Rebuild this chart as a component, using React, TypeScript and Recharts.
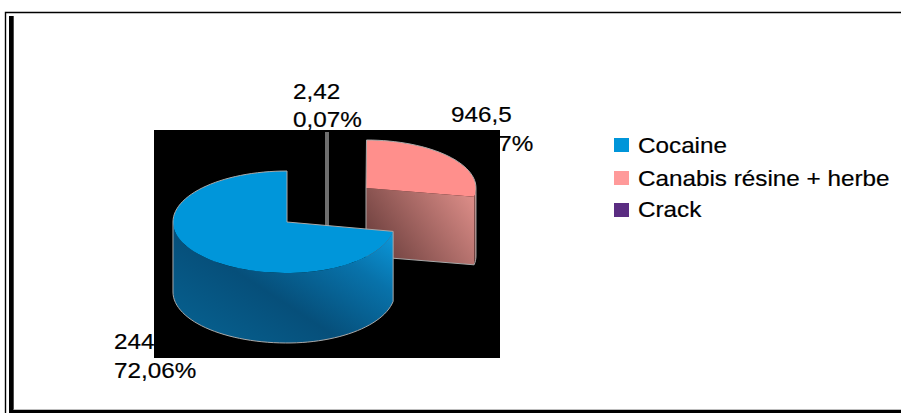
import React from 'react';
import { PieChart, Pie, Legend } from 'recharts';

const categories = ['Cocaine', 'Canabis résine + herbe', 'Crack'];
const values = [2447, 946.5, 2.42];
const valueLabels = ['2447', '946,5', '2,42'];
const percentLabels = ['72,06%', '27,87%', '0,07%'];
const legendColors = ['#0095d9', '#ff9a9a', '#5b2d82'];

// 3D look of each slice, same order as categories
const sliceLooks = [
  { dx: 0, dy: 0, left: 1.018, right: 0.964, ry: 51, depth: 70, top: '#0096da', wall: 'url(#wallBlue)', edge: '#a9a9a9', hairline: false },
  { dx: 79, dy: -34, left: 1, right: 0.982, ry: 48, depth: 68, top: '#ff8f8c', wall: 'url(#wallPink)', edge: '#a9a9a9', hairline: false },
  { dx: 40, dy: -42, left: 1, right: 1, ry: 48, depth: 68, top: '#6e6e6e', wall: '#6e6e6e', edge: '#6e6e6e', hairline: true },
];
const labelSpots = [
  { x: 114, y1: 349, y2: 378 },
  { x: 451, y1: 122, y2: 151 },
  { x: 293, y1: 99, y2: 127 },
];

const FONT = '"Liberation Sans", Arial, sans-serif';
const rad = (a: number) => (a * Math.PI) / 180;

function StretchedText({ x, y, children }: { x: number; y: number; children: React.ReactNode }) {
  return (
    <text
      transform={`translate(${x},${y}) scale(1.06,1)`}
      fontFamily={FONT}
      fontSize={22.9}
      fill="#000"
      stroke="#000"
      strokeWidth={0.2}
    >
      {children}
    </text>
  );
}

function Slice3D(props: any) {
  const { cx, cy, outerRadius, startAngle, endAngle, index } = props;
  // painted back to front, so the index is mirrored
  const look = sliceLooks[categories.length - 1 - index];
  const x0 = cx + look.dx;
  const y0 = cy + look.dy;
  const a0 = Math.min(startAngle, endAngle);
  const a1 = Math.max(startAngle, endAngle);
  const d = look.depth;
  const px = (a: number) => {
    const c = Math.cos(rad(a));
    return x0 + outerRadius * c * (c < 0 ? look.left : look.right);
  };
  const py = (a: number) => y0 - look.ry * Math.sin(rad(a));

  // the rim is egg shaped, so it is walked in small steps instead of an A command
  const rim = (from: number, to: number, drop = 0) => {
    const steps = Math.max(2, Math.ceil(Math.abs(to - from) / 3));
    const pts: string[] = [];
    for (let i = 0; i <= steps; i++) {
      const a = from + ((to - from) * i) / steps;
      pts.push(`${px(a)},${py(a) + drop}`);
    }
    return pts.join(' L');
  };

  if (look.hairline) {
    return <path d={`M${px(a1)},${py(a1)} L${x0},${y0 + d}`} stroke={look.edge} strokeWidth={4} fill="none" />;
  }

  const w0 = Math.max(a0, -180);
  const w1 = Math.min(a1, 0);
  const cutShows = Math.sin(rad(a0)) < 0;

  const topPath = `M${x0},${y0} L${rim(a0, a1)} Z`;
  const rimPath = `M${rim(w0, w1)} L${rim(w1, w0, d)} Z`;
  const cutPath = `M${x0},${y0} L${px(a0)},${py(a0)} L${px(a0)},${py(a0) + d} L${x0},${y0 + d} Z`;

  // outline only, the seam between top and wall has no line
  const outline = cutShows
    ? `M${x0},${y0 + d} L${x0},${y0} L${rim(a1, w1)} L${rim(w1, w0, d)} L${x0},${y0 + d}`
    : `M${px(a1)},${py(a1) + d} L${px(a1)},${py(a1)} L${x0},${y0} L${rim(a0, w0)} L${rim(w0, w1, d)}`;

  return (
    <g>
      {cutShows && <path d={cutPath} fill={look.wall} />}
      <path d={rimPath} fill={look.wall} />
      <path d={topPath} fill={look.top} />
      <path d={outline} fill="none" stroke={look.edge} strokeWidth={1} />
    </g>
  );
}

function LegendBox() {
  const tops = [138, 171, 203];
  const baselines = [153, 186, 217];
  return (
    <svg width={901} height={413} style={{ display: 'block' }}>
      {categories.map((name, i) => (
        <g key={name}>
          <rect x={614} y={tops[i]} width={15} height={14} fill={legendColors[i]} />
          <StretchedText x={638} y={baselines[i]}>{name}</StretchedText>
        </g>
      ))}
    </svg>
  );
}

const pieData = categories.map((name, i) => ({ name, value: values[i] })).reverse();

export default function App() {
  return (
    <div style={{ position: 'absolute', left: 0, top: 0, width: 901, height: 413, background: '#fff', overflow: 'hidden' }}>
      <PieChart width={901} height={413} margin={{ top: 0, right: 0, bottom: 0, left: 0 }}>
        <defs>
          <linearGradient id="wallBlue" x1="0.05" y1="0.9" x2="1" y2="0.1">
            <stop offset="0" stopColor="#06608f" />
            <stop offset="0.4" stopColor="#064f7a" />
            <stop offset="0.75" stopColor="#0872aa" />
            <stop offset="1" stopColor="#0b98db" />
          </linearGradient>
          <linearGradient id="wallPink" x1="0" y1="0.7" x2="1" y2="0.2">
            <stop offset="0" stopColor="#6b3e3c" />
            <stop offset="1" stopColor="#d98b86" />
          </linearGradient>
        </defs>
        {/* page frame */}
        <path d="M901,12.5 H5.5 V413" fill="none" stroke="#000" strokeWidth={1.4} />
        <rect x={9} y={16} width={4.7} height={397} fill="#000" />
        <rect x={9} y={410} width={892} height={3} fill="#000" />
        <rect x={13.7} y={409} width={887.3} height={1} fill="#bdbdbd" />
        {/* labels go first: the black plate covers a part of them */}
        {categories.map((name, i) => (
          <g key={name}>
            <StretchedText x={labelSpots[i].x} y={labelSpots[i].y1}>{valueLabels[i]}</StretchedText>
            <StretchedText x={labelSpots[i].x} y={labelSpots[i].y2}>{percentLabels[i]}</StretchedText>
          </g>
        ))}
        <rect x={154} y={130} width={346} height={228} fill="#000" />
        <Pie
          data={pieData}
          dataKey="value"
          nameKey="name"
          cx={287}
          cy={222}
          outerRadius={112}
          startAngle={90}
          endAngle={-270}
          stroke="none"
          isAnimationActive={false}
          shape={Slice3D}
        />
        <Legend content={() => <LegendBox />} wrapperStyle={{ position: 'absolute', left: 0, top: 0, width: 901, height: 413, pointerEvents: 'none' }} />
      </PieChart>
    </div>
  );
}
